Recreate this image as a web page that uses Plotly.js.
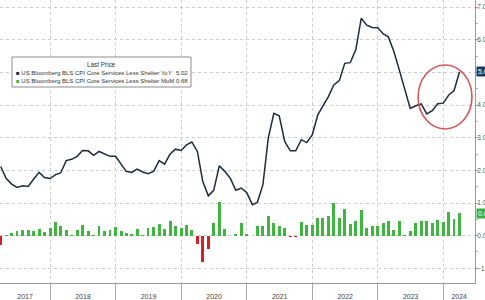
<!DOCTYPE html>
<html><head><meta charset="utf-8">
<script src="https://cdn.plot.ly/plotly-3.0.1.min.js"></script>
<style>html,body{margin:0;padding:0;background:#fff}#chart{width:485px;height:300px}</style>
</head><body><div id="chart"></div>
<script>
// Monthly data, March 2017 .. March 2024 (plotted at month end)
const startYear = 2017, startMonthIndex = 2; // March
const yoy = [
  2.12, 1.76, 1.58, 1.48, 1.53, 1.51, 1.73, 1.94, 1.78, 1.75,
  1.87, 1.92, 2.30, 2.34, 2.43, 2.61, 2.60, 2.46, 2.58, 2.50, 2.43, 2.43,
  2.20, 1.97, 1.94, 2.04, 1.95, 1.90, 1.97, 2.30, 2.19, 2.50, 2.65, 2.61,
  2.78, 2.87, 2.58, 1.66, 1.22, 1.39, 2.14, 1.97, 1.76, 1.39, 1.46, 1.32,
  0.95, 1.02, 1.56, 2.99, 3.75, 3.67, 2.88, 2.60, 2.60, 2.94, 2.85, 3.09,
  3.70, 3.95, 4.26, 4.62, 4.75, 5.28, 5.30, 5.70, 6.66, 6.45, 6.38, 6.37,
  6.18, 6.09, 5.64, 5.08, 4.46, 3.90, 3.98, 4.04, 3.73, 3.83, 4.04, 4.06,
  4.31, 4.44, 5.02
];
const mom = [
  -0.30, 0.03, 0.08, 0.15, 0.17, 0.17, 0.15, 0.21, 0.10, 0.24,
  0.43, 0.29, 0.16, 0.02, 0.18, 0.33, 0.13, 0.02, 0.29, 0.13, 0.17, 0.26,
  0.15, 0.07, 0.04, 0.21, 0.02, 0.25, 0.27, 0.37, 0.20, 0.46, 0.29, 0.23,
  0.32, 0.17, -0.25, -0.80, -0.41, 0.40, 1.03, 0.21, -0.02, 0.05, 0.38, 0.06,
  -0.02, 0.30, 0.30, 0.60, 0.38, 0.29, 0.25, -0.03, -0.03, 0.43, 0.33, 0.32,
  0.55, 0.55, 0.60, 1.00, 0.54, 0.83, 0.35, 0.45, 0.78, 0.22, 0.29, 0.31,
  0.40, 0.46, 0.17, 0.46, 0.02, 0.14, 0.38, 0.45, 0.45, 0.40, 0.47, 0.43,
  0.71, 0.52, 0.68
];
const yearLabels = ['2017','2018','2019','2020','2021','2022','2023','2024'];
const yTicks = [-1, 0, 1, 2, 3, 4, 5, 6, 7];
const yoyName = 'US Bloomberg BLS CPI Core Services Less Shelter YoY';
const momName = 'US Bloomberg BLS CPI Core Services Less Shelter MoM';
const legendTitle = 'Last Price';

const NAVY = '#1d2b3e', GREEN = '#40b540', RED = '#d61f26';
const xRange = ['2017-03-27', '2024-06-25'];

function monthEnd(i){
  const d = new Date(Date.UTC(startYear, startMonthIndex + i + 1, 0));
  return d.toISOString().slice(0,10);
}
const dates = yoy.map((_, i) => monthEnd(i));

const r0 = Date.parse(xRange[0]), r1 = Date.parse(xRange[1]);
const yearStarts = yearLabels.map(y => y + '-01-01');
const yearCenters = yearLabels.map(y => {
  const a = Math.max(Date.parse(y + '-01-01'), r0);
  const b = Math.min(Date.parse((+y + 1) + '-01-01'), r1);
  return new Date((a + b) / 2).toISOString();
});

const lastYoy = yoy[yoy.length-1], lastMom = mom[mom.length-1];

const bars = {
  type: 'bar', x: dates, y: mom, xaxis: 'x', yaxis: 'y',
  marker: {color: mom.map(v => v < 0 ? RED : GREEN), line: {width: 0}},
  width: 16 * 86400000, showlegend: false, hoverinfo: 'skip'
};
const line = {
  type: 'scatter', mode: 'lines', x: dates, y: yoy, xaxis: 'x2', yaxis: 'y',
  line: {color: NAVY, width: 1.5}, showlegend: false, hoverinfo: 'skip'
};

const W = 475, H = 283;
const px = v => v / W, py = v => 1 - v / H;

const layout = {
  width: 485, height: 300,
  margin: {l: 0, r: 10, t: 0, b: 17, pad: 0},
  paper_bgcolor: '#fff', plot_bgcolor: '#fff',
  font: {family: 'Liberation Sans, Arial, sans-serif', size: 7, color: '#444'},
  showlegend: false,
  bargap: 0,
  xaxis: {
    type: 'date', range: xRange, tickmode: 'array', tickvals: yearStarts,
    showticklabels: false, ticks: 'outside', ticklen: 17, tickcolor: '#aaa', tickwidth: 1,
    showgrid: true, gridcolor: '#cccccc', griddash: 'dot', gridwidth: 1,
    showline: true, linecolor: '#999', linewidth: 1, zeroline: false, fixedrange: true
  },
  xaxis2: {
    type: 'date', range: xRange, overlaying: 'x', anchor: 'y', side: 'bottom',
    tickmode: 'array', tickvals: yearCenters, ticktext: yearLabels,
    ticks: '', showgrid: false, showline: false, zeroline: false,
    tickfont: {size: 7, color: '#444'}, ticklabelstandoff: 8
  },
  yaxis: {
    side: 'right', range: [-1.45, 7.22], tickmode: 'array', tickvals: yTicks,
    tickformat: '.1f', ticks: 'outside', ticklen: 2, tickcolor: '#999',
    tickfont: {size: 6.5, color: '#555'}, ticklabelstandoff: -2,
    minor: {dtick: 0.5, tick0: 0, ticks: 'outside', ticklen: 2, tickcolor: '#aaa', showgrid: false},
    showgrid: true, gridcolor: '#cccccc', griddash: 'dot', gridwidth: 1,
    showline: true, linecolor: '#999', linewidth: 1, zeroline: false
  },
  shapes: [
    {type: 'rect', xref: 'paper', yref: 'paper', x0: px(12), x1: px(191), y0: py(87), y1: py(57),
     line: {color: '#8c8c8c', width: 1}, fillcolor: '#ffffff', layer: 'above'},
    {type: 'circle', xref: 'x', yref: 'y', x0: '2023-08-13', x1: '2024-06-08', y0: 3.27, y1: 5.23,
     line: {color: 'rgba(205,70,70,0.9)', width: 1.6}, layer: 'above'}
  ],
  annotations: [
    {xref: 'paper', yref: 'paper', x: px(101.5), y: py(64.5), text: legendTitle, showarrow: false,
     xanchor: 'center', yanchor: 'middle', font: {size: 6.4, color: '#333'}},
    {xref: 'paper', yref: 'paper', x: px(14), y: py(72.5), showarrow: false, xanchor: 'left', yanchor: 'middle',
     text: '<span style="color:' + NAVY + '">■</span> ' + yoyName, font: {size: 6.0, color: '#333'}},
    {xref: 'paper', yref: 'paper', x: px(14), y: py(80.5), showarrow: false, xanchor: 'left', yanchor: 'middle',
     text: '<span style="color:' + GREEN + '">■</span> ' + momName, font: {size: 6.0, color: '#333'}},
    {xref: 'paper', yref: 'paper', x: px(190), y: py(72.5), showarrow: false, xanchor: 'right', yanchor: 'middle',
     text: lastYoy.toFixed(2), font: {size: 6.0, color: '#333'}},
    {xref: 'paper', yref: 'paper', x: px(190), y: py(80.5), showarrow: false, xanchor: 'right', yanchor: 'middle',
     text: lastMom.toFixed(2), font: {size: 6.0, color: '#333'}},
    {xref: 'paper', yref: 'y', x: 1, y: lastYoy, xanchor: 'left', yanchor: 'middle', xshift: 1, showarrow: false,
     text: lastYoy.toFixed(2), bgcolor: '#1f3b5c', borderpad: 1, font: {size: 7, color: '#fff'}},
    {xref: 'paper', yref: 'y', x: 1, y: lastMom, xanchor: 'left', yanchor: 'middle', xshift: 1, showarrow: false,
     text: lastMom.toFixed(2), bgcolor: '#3dae3d', borderpad: 1, font: {size: 7, color: '#fff'}}
  ]
};

Plotly.newPlot('chart', [bars, line], layout, {staticPlot: true, displayModeBar: false});
</script>
</body></html>
